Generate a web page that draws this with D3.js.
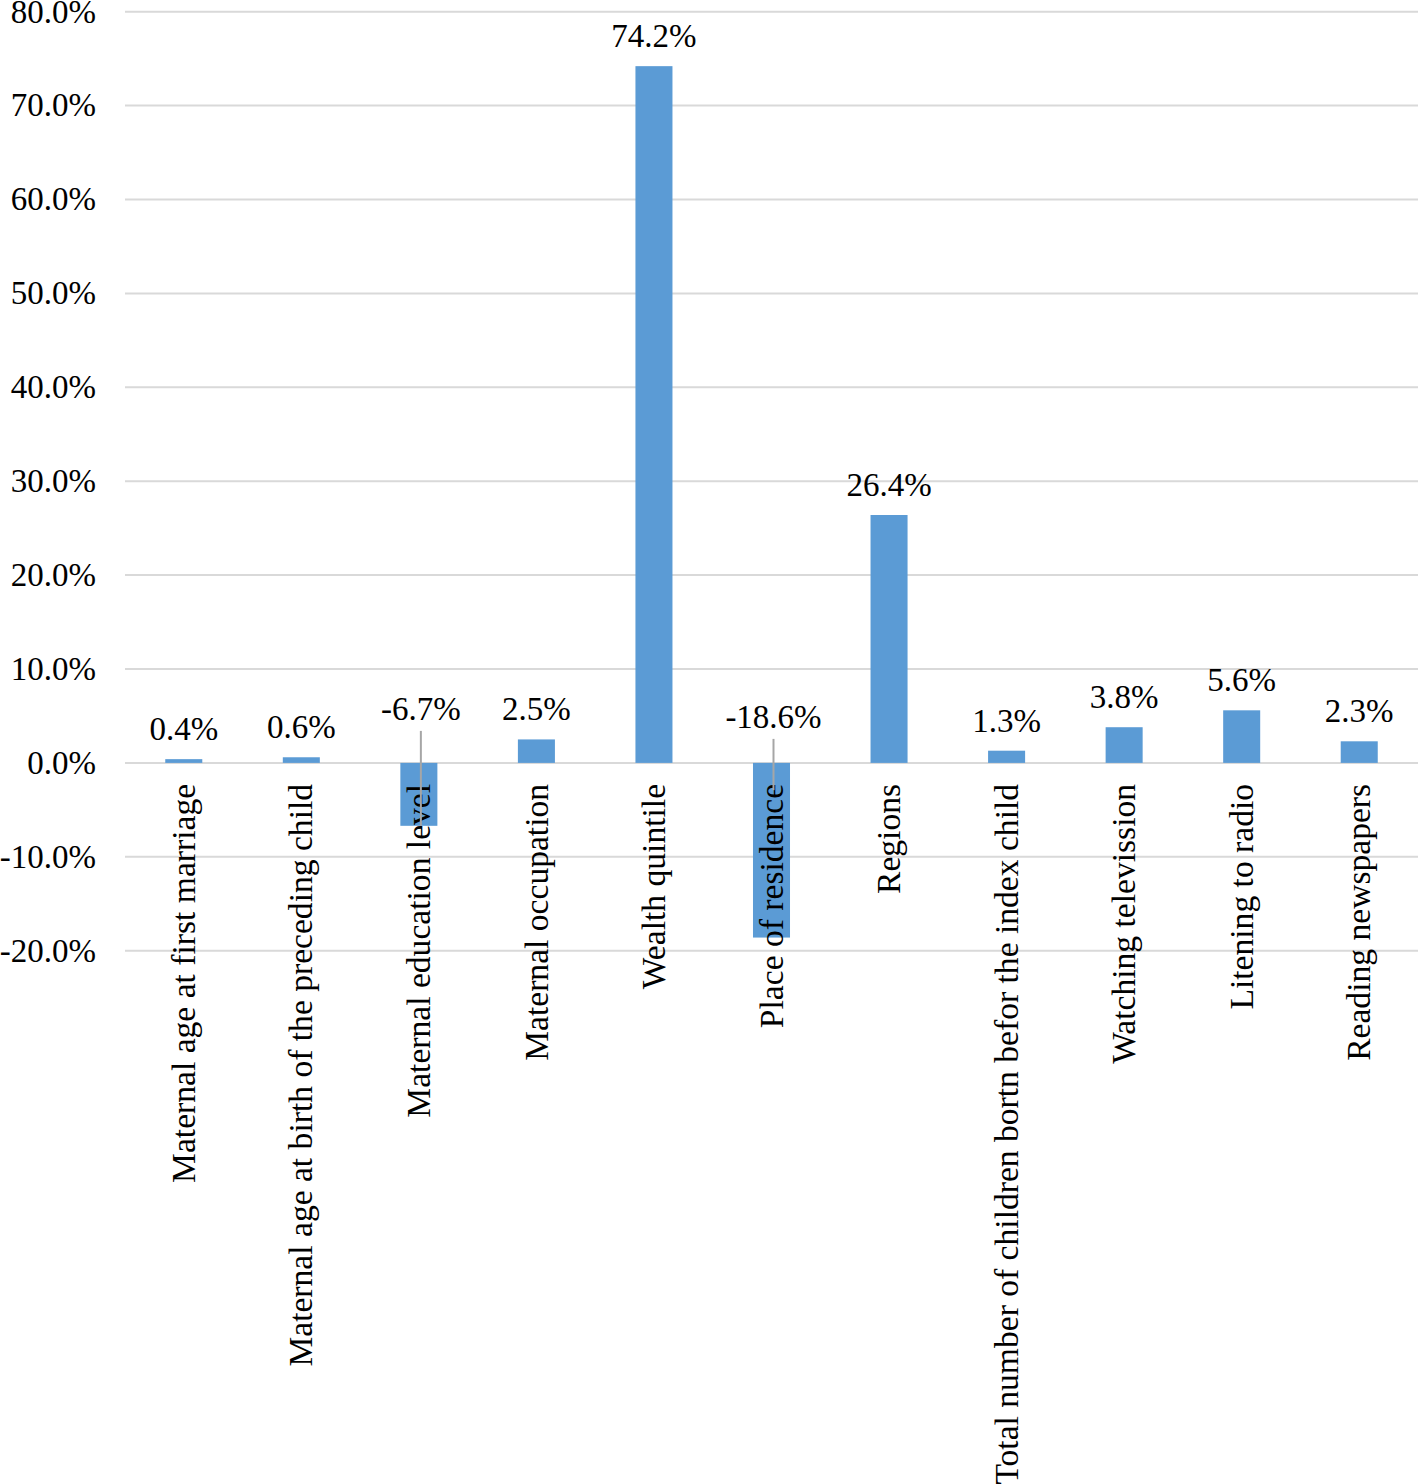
<!DOCTYPE html>
<html>
<head>
<meta charset="utf-8">
<script src="https://cdn.jsdelivr.net/npm/d3@7"></script>
<style>
	body { margin: 0; background: #fff; }
	svg { display: block; font-family: "Liberation Serif", "Times New Roman", serif; }
</style>
</head>
<body>
<svg></svg>
<script>
// data
var categories = [
	"Maternal age at first marriage",
	"Maternal age at birth of the preceding child",
	"Maternal education level",
	"Maternal occupation",
	"Wealth quintile",
	"Place of residence",
	"Regions",
	"Total number of children bortn befor the index child",
	"Watching televission",
	"Litening to radio",
	"Reading newspapers"
];
var values = [0.4, 0.6, -6.7, 2.5, 74.2, -18.6, 26.4, 1.3, 3.8, 5.6, 2.3];
var yTicks = [-20, -10, 0, 10, 20, 30, 40, 50, 60, 70, 80];
// where the leader line of a negative label stops (in % units)
var leaderEnds = {"-6.7": -6.7, "-18.6": -2.9};

var width = 1418;
var height = 1484;
var left = 125;
var fontSize = 33;

var data = categories.map((c, i) => ({name: c, value: values[i]}));

// plain hyphen for negatives, like the original
var locale = d3.formatLocale({decimal: ".", thousands: ",", grouping: [3], currency: ["", ""], minus: "-"});
var pct = v => locale.format(".1f")(v) + "%";

var svg = d3.select("svg")
	.attr("width", width)
	.attr("height", height);

var xScale = d3.scaleBand()
	.domain(categories)
	.range([left, width])
	.paddingInner(0.685)
	.paddingOuter(0.3425);

var yScale = d3.scaleLinear()
	.domain([-20, 80])
	.range([950.7, 11.7]);

// gridlines
svg.append("g")
	.selectAll("line")
	.data(yTicks)
	.enter()
	.append("line")
	.attr("x1", left)
	.attr("x2", width)
	.attr("y1", d => yScale(d))
	.attr("y2", d => yScale(d))
	.attr("stroke", "#d9d9d9")
	.attr("stroke-width", 2);

// y tick labels
svg.append("g")
	.selectAll("text")
	.data(yTicks)
	.enter()
	.append("text")
	.attr("x", 96)
	.attr("y", d => yScale(d))
	.attr("dy", "0.33em")
	.style("text-anchor", "end")
	.style("font-size", fontSize + "px")
	.text(d => pct(d));

// bars
svg.append("g")
	.selectAll("rect")
	.data(data)
	.enter()
	.append("rect")
	.attr("x", d => xScale(d.name))
	.attr("width", xScale.bandwidth())
	.attr("y", d => yScale(Math.max(0, d.value)))
	.attr("height", d => Math.abs(yScale(d.value) - yScale(0)))
	.attr("fill", "#5b9bd5");

// category labels
svg.append("g")
	.selectAll("text")
	.data(data)
	.enter()
	.append("text")
	.attr("transform", d => `translate(${xScale(d.name) + xScale.bandwidth() / 2}, ${yScale(0) + 21}) rotate(-90)`)
	.attr("dy", "0.33em")
	.style("text-anchor", "end")
	.style("font-size", "33.6px")
	.text(d => d.name);

// leader lines for negative values
svg.append("g")
	.selectAll("line")
	.data(data.filter(d => d.value < 0))
	.enter()
	.append("line")
	.attr("x1", d => xScale(d.name) + xScale.bandwidth() / 2 + 2)
	.attr("x2", d => xScale(d.name) + xScale.bandwidth() / 2 + 2)
	.attr("y1", d => yScale(0) - 32 + (d.value < -10 ? 8 : 0))
	.attr("y2", d => yScale(leaderEnds[d.value]))
	.attr("stroke", "#a6a6a6")
	.attr("stroke-width", 2);

// value labels
svg.append("g")
	.selectAll("text")
	.data(data)
	.enter()
	.append("text")
	.attr("x", d => xScale(d.name) + xScale.bandwidth() / 2 + (d.value < 0 ? 2 : 0))
	.attr("y", d => d.value < 0 ? yScale(0) - 43 + (d.value < -10 ? 8 : 0) : yScale(d.value) - 19)
	.style("text-anchor", "middle")
	.style("font-size", fontSize + "px")
	.text(d => pct(d.value));
</script>
</body>
</html>
